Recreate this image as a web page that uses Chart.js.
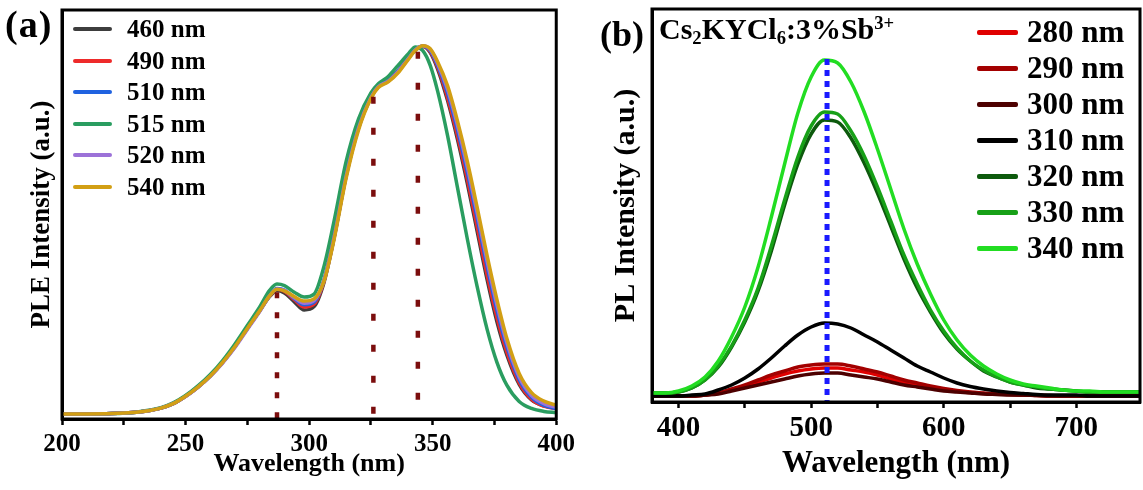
<!DOCTYPE html>
<html>
<head>
<meta charset="utf-8">
<script src="https://cdn.jsdelivr.net/npm/chart.js@4.4.1/dist/chart.umd.min.js"></script>
<style>
  body { margin: 0; background: #fff; }
  #wrap { position: relative; width: 1143px; height: 490px; overflow: hidden;
          font-family: 'Liberation Serif', 'Times New Roman', serif; font-weight: bold; color: #000; }
  canvas { position: absolute; top: 0; }
  .lbl { position: absolute; white-space: nowrap; line-height: 1; }
  .row { position: absolute; display: flex; align-items: center; white-space: nowrap; }
  .sw { display: inline-block; border-radius: 2px; }
  sub { font-size: 0.62em; vertical-align: -0.25em; }
  sup { font-size: 0.62em; vertical-align: 0.55em; }
</style>
</head>
<body>
<div id="wrap">
  <canvas id="ple" width="580" height="490" style="left:0"></canvas>
  <canvas id="pl" width="563" height="490" style="left:580px"></canvas>
  <div class="lbl" style="left:5px;top:5px;font-size:38px;letter-spacing:1px">(a)</div>
  <div class="lbl" style="left:600px;top:16px;font-size:36px">(b)</div>
  <div class="lbl" style="left:659px;top:14px;font-size:30px">Cs<sub>2</sub>KYCl<sub>6</sub>:3%Sb<sup>3+</sup></div>
  <div id="legA"></div>
  <div id="legB"></div>
</div>
<script>
// ---- panel (a): PLE spectra, normalised
const pleX = [200,210,220,230,235,240,245,250,255,260,265,270,275,280,284,287,290,294,298,302,306,310,
  315,320,325,328,332,336,340,343,346,349,352,356,360,364,368,372,376,380,385,390,395,400];
const ple460 = [0,0,0.001,0.005,0.009,0.016,0.028,0.048,0.073,0.103,0.140,0.183,0.232,0.280,
  0.318,0.335,0.328,0.304,0.282,0.291,0.356,0.474,
  0.646,0.776,0.858,0.887,0.902,0.929,0.963,0.987,0.996,0.980,0.935,0.850,
  0.745,0.625,0.495,0.365,0.250,0.160,0.080,0.038,0.022,0.018];
const ple490 = [0,0,0.001,0.005,0.009,0.016,0.028,0.048,0.073,0.103,0.140,0.183,0.232,0.280,
  0.320,0.338,0.333,0.310,0.290,0.298,0.360,0.476,
  0.648,0.778,0.860,0.888,0.903,0.930,0.964,0.988,0.996,0.982,0.940,0.858,
  0.755,0.637,0.508,0.378,0.262,0.168,0.085,0.040,0.021,0.014];
const ple510 = [0,0,0.001,0.005,0.009,0.016,0.028,0.048,0.073,0.103,0.140,0.183,0.232,0.280,
  0.321,0.340,0.336,0.313,0.296,0.303,0.363,0.477,
  0.648,0.778,0.860,0.888,0.903,0.930,0.964,0.988,0.997,0.985,0.945,0.870,
  0.770,0.655,0.530,0.400,0.280,0.182,0.093,0.045,0.023,0.015];
const ple515 = [0,0,0.001,0.005,0.010,0.017,0.030,0.050,0.076,0.107,0.145,0.190,0.240,0.290,
  0.335,0.352,0.348,0.330,0.317,0.325,0.400,0.520,
  0.685,0.800,0.870,0.895,0.915,0.945,0.975,0.995,0.985,0.945,0.875,0.755,
  0.615,0.475,0.345,0.230,0.140,0.078,0.034,0.015,0.007,0.004];
const ple520 = [0,0,0.001,0.005,0.009,0.016,0.028,0.047,0.072,0.102,0.138,0.180,0.229,0.278,
  0.320,0.339,0.335,0.315,0.300,0.307,0.362,0.475,
  0.645,0.775,0.858,0.887,0.902,0.928,0.962,0.987,0.998,0.988,0.950,0.880,
  0.783,0.670,0.545,0.415,0.295,0.193,0.100,0.050,0.028,0.018];
const ple540 = [0,0,0.001,0.005,0.009,0.016,0.028,0.048,0.073,0.103,0.140,0.183,0.232,0.280,
  0.320,0.338,0.334,0.318,0.306,0.312,0.360,0.470,
  0.640,0.770,0.855,0.885,0.900,0.925,0.960,0.985,0.998,0.990,0.955,0.890,
  0.795,0.685,0.560,0.430,0.310,0.205,0.110,0.058,0.035,0.024];
const pleLabels = ['460 nm','490 nm','510 nm','515 nm','520 nm','540 nm'];
const pleColors = ['#3d3d3d','#ee2a2a','#2062e0','#2a9d60','#9c72d8','#d29f14'];
const pleSeries = [ple460, ple490, ple510, ple515, ple520, ple540];
// dotted markers: peak positions and how high they reach
const pleMarkX = [287, 326, 344];
const pleMarkTop = [0.33, 0.86, 0.982];

// ---- panel (b): PL spectra
const plX = [380,390,400,410,420,430,440,450,460,470,480,490,500,510,520,530,540,550,560,570,
  580,590,600,610,620,630,640,650,660,670,680,690,700,710,720,730,740,750];
const pl280 = [1,1,1,1,2,4,7,11,15,19, 23,26,28,29,29,27,25,22,18,15, 12,9.5,7.5,5.5,4.5,3.5,3,2.5,2,1.5, 1,1,1,1,1,1,1,1];
const pl290 = [1,1,1,1,2,4,8,12,17,22, 26,30,32,33,33,31,28,25,21,17, 14,11,8.5,6.5,5,4,3,2.5,2,2, 1.5,1,1,1,1,1,1,1];
const pl300 = [1,1,1,1,2,3,6,9,12,15, 18,21,23,24,24,22,20,18,15,12, 10,8,6,5,4,3,2.5,2,2,1.5, 1,1,1,1,1,1,1,1];
const pl310 = [1,1,1,2,3,7,12,19,28,39, 51,62,70,74,73,69,62,55,47,39, 31,25,19,14,10.5,8,6,4.5,3.5,2.5, 2,2,2,1,1,1,1,1];
const pl320 = [4,4,5,9,17,30,50,75,106,146, 192,233,263,277,275,259,234,204,171,138, 109,85,64,48,36,26,20,15,12,9, 8,7,6,5,5,5,5,5];
const pl330 = [4,4,5,9,17,31,51,77,109,151, 197,240,271,285,283,266,241,210,176,142, 113,87,66,49,36,27,20,15,12,10, 8,7,6,5,5,5,5,5];
const pl340 = [4,4,6,11,20,36,60,90,130,180, 233,284,320,337,334,315,285,248,208,168, 133,103,77,57,42,31,23,17,13,11, 9,7,6,6,5,5,5,5];
const plLabels = ['280 nm','290 nm','300 nm','310 nm','320 nm','330 nm','340 nm'];
const plColors = ['#e00000','#a30000','#4d0000','#000000','#0d5a0d','#17a017','#22dd22'];
const plSeries = [pl280, pl290, pl300, pl310, pl320, pl330, pl340];
const plMarkX = 512;
const plMarkTop = 338;

const serif = "'Liberation Serif', 'Times New Roman', serif";
Chart.defaults.font.family = serif;
Chart.defaults.font.weight = 'bold';
Chart.defaults.color = '#000';

const toPoints = (xs, ys) => xs.map((x, i) => ({ x: x, y: ys[i] }));

// black box round the plot area
const framePlugin = {
  id: 'frame',
  afterDraw(chart) {
    const { ctx, chartArea: a } = chart;
    ctx.save();
    ctx.strokeStyle = '#000';
    ctx.lineWidth = 3;
    ctx.strokeRect(a.left, a.top, a.right - a.left, a.bottom - a.top);
    ctx.restore();
  }
};

function xAxis(min, max, step, major, tickSize, tickPad, titleSize, titlePad, h) {
  return {
    type: 'linear', min: min, max: max,
    border: { display: true, width: 3, color: '#000' },
    grid: { drawOnChartArea: false, drawTicks: true, tickLength: 6, tickWidth: 2.5, tickColor: '#000' },
    ticks: { stepSize: step, includeBounds: false, autoSkip: false, maxRotation: 0, padding: tickPad,
             font: { size: tickSize, weight: 'bold' },
             callback: (v) => (v % major === 0 ? v : '') },
    title: { display: true, text: 'Wavelength (nm)', font: { size: titleSize, weight: 'bold' },
             padding: { top: 0, bottom: titlePad } },
    afterFit: (s) => { s.height = h; }
  };
}

function yAxis(min, max, text, size, pad, w) {
  return {
    min: min, max: max,
    ticks: { display: false },
    grid: { display: false },
    border: { display: true, width: 3, color: '#000' },
    title: { display: true, text: text, font: { size: size, weight: 'bold' }, padding: { top: pad, bottom: 0 } },
    afterFit: (s) => { s.width = w; }
  };
}

// ---------- chart (a)
const pleSets = pleSeries.map((ys, i) => ({
  label: pleLabels[i], data: toPoints(pleX, ys),
  borderColor: pleColors[i], backgroundColor: pleColors[i],
  borderWidth: 3.5, pointRadius: 0, cubicInterpolationMode: 'monotone',
  order: pleSeries.length - i
}));
pleMarkX.forEach((x, i) => {
  pleSets.push({
    label: 'mark', data: [{ x: x, y: pleMarkTop[i] }, { x: x, y: -0.0136 }],
    borderColor: '#7b0d0d', borderWidth: 4.5, pointRadius: 0,
    borderDash: i === 0 ? [6, 14] : [7, 24], order: 0
  });
});

new Chart(document.getElementById('ple'), {
  type: 'line',
  data: { datasets: pleSets },
  options: {
    responsive: false, animation: false,
    layout: { padding: { top: 10, right: 9, left: 0, bottom: 0 } },
    plugins: { legend: { display: false }, tooltip: { enabled: false } },
    scales: {
      x: xAxis(200, 400, 25, 50, 25, 5, 26, 10, 71),
      y: yAxis(-0.0136, 1.095, 'PLE Intensity (a.u.)', 27, 26, 62)
    }
  },
  plugins: [framePlugin]
});

// ---------- chart (b)
const plSets = plSeries.map((ys, i) => ({
  label: plLabels[i], data: toPoints(plX, ys),
  borderColor: plColors[i], backgroundColor: plColors[i],
  borderWidth: 3.5, pointRadius: 0, cubicInterpolationMode: 'monotone',
  order: plSeries.length - i
}));
plSets.push({
  label: 'mark', data: [{ x: plMarkX, y: plMarkTop }, { x: plMarkX, y: -5 }],
  borderColor: '#1a1aff', borderWidth: 5, pointRadius: 0, borderDash: [6, 5], order: 0
});

new Chart(document.getElementById('pl'), {
  type: 'line',
  data: { datasets: plSets },
  options: {
    responsive: false, animation: false,
    layout: { padding: { top: 9, right: 3, left: 0, bottom: 0 } },
    plugins: { legend: { display: false }, tooltip: { enabled: false } },
    scales: {
      x: xAxis(380, 748, 50, 100, 29, 3, 31, 7, 88),
      y: yAxis(-5, 388, 'PL Intensity (a.u.)', 30, 28, 72)
    }
  },
  plugins: [framePlugin]
});

// ---------- legends (html)
function buildLegend(id, labels, colors, o) {
  const box = document.getElementById(id);
  labels.forEach((t, i) => {
    const row = document.createElement('div');
    row.className = 'row';
    row.style.left = o.left + 'px';
    row.style.top = (o.first + i * o.step - o.h / 2) + 'px';
    row.style.height = o.h + 'px';
    row.style.fontSize = o.size + 'px';
    const sw = document.createElement('span');
    sw.className = 'sw';
    sw.style.width = o.swW + 'px';
    sw.style.height = o.swH + 'px';
    sw.style.background = colors[i];
    sw.style.marginRight = o.gap + 'px';
    row.appendChild(sw);
    row.appendChild(document.createTextNode(t));
    box.appendChild(row);
  });
}
buildLegend('legA', pleLabels, pleColors, { left: 73, first: 29, step: 31.6, h: 30, size: 25, swW: 39, swH: 4, gap: 15 });
buildLegend('legB', plLabels, plColors, { left: 977, first: 32, step: 36, h: 34, size: 31, swW: 41, swH: 5, gap: 9 });
</script>
</body>
</html>
